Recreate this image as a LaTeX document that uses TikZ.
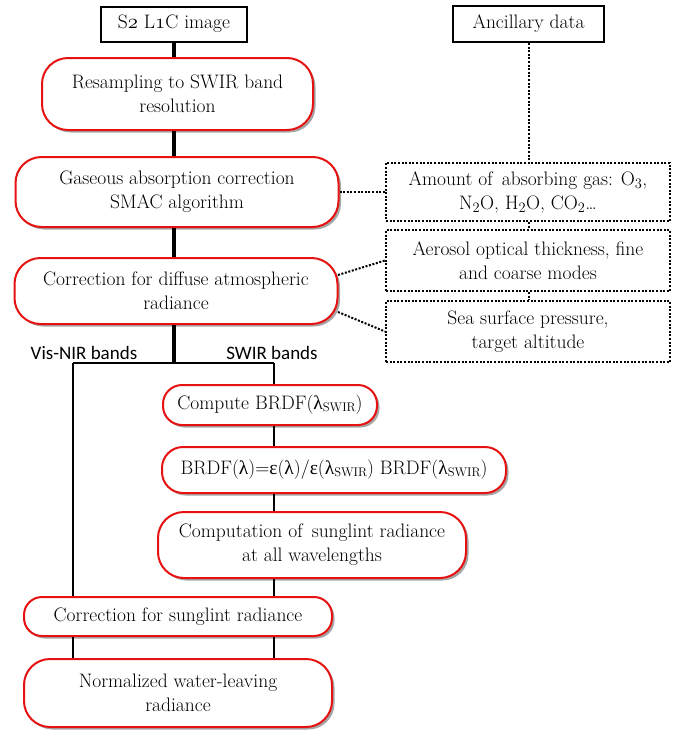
\documentclass[tikz,border=0pt]{standalone}
\usepackage{fontspec}
\newfontfamily\calib{Carlito}
\newfontfamily\grk{Liberation Serif}
\usetikzlibrary{shadows}
\definecolor{boxred}{RGB}{230,18,18}
\newcommand{\osn}[1]{{\usefont{OML}{lmm}{m}{it}#1}}
\newcommand{\lam}{{\grk λ}}
\newcommand{\eps}{{\grk ε}}
\newcommand{\sw}{\raisebox{-0.25ex}{\fontsize{12.5}{12.5}\selectfont SWIR}}
\begin{document}
\begin{tikzpicture}[x=1pt,y=-1pt,
  txt/.style={font=\fontsize{19.5}{24}\selectfont, align=center, inner sep=0pt, text=black},
  rbox/.style={txt, draw=boxred, line width=2pt, fill=white,
    drop shadow={shadow xshift=2.5pt, shadow yshift=-2.5pt, fill=black!50, opacity=0.7}},
  sbox/.style={txt, draw=black, line width=2pt, fill=white},
  dbox/.style={txt, draw=black, dash pattern=on 2pt off 1.6pt, line width=2pt, fill=white},
  trunk/.style={line width=3.5pt},
  branch/.style={line width=2pt},
  dotline/.style={dash pattern=on 2pt off 1.6pt, line width=2pt},
  lab/.style={font=\calib\fontsize{19}{21}\selectfont, inner sep=0pt}
]
\useasboundingbox (0,0) rectangle (686,731);

% left column
\node[sbox, minimum width=146pt, minimum height=35pt] (s2) at (174,24) {S\osn{2} L\osn{1}C image};
\node[rbox, minimum width=271pt, minimum height=72pt, rounded corners=26pt] (res) at (177.5,94) {Resampling to SWIR band\\resolution};
\node[rbox, minimum width=323pt, minimum height=70pt, rounded corners=26pt] (gas) at (177,192) {Gaseous absorption correction\\SMAC algorithm};
\node[rbox, minimum width=323pt, minimum height=66pt, rounded corners=26pt] (diff) at (176,291) {Correction for diffuse atmospheric\\radiance};
\node[rbox, minimum width=214pt, minimum height=40pt, rounded corners=19pt] (cbrdf) at (270,405) {Compute BRDF(\lam\sw)};
\node[rbox, minimum width=344pt, minimum height=46pt, rounded corners=21pt] (brdfl) at (334,470) {BRDF(\lam)=\eps(\lam)/\eps(\lam\sw) BRDF(\lam\sw)};
\node[rbox, minimum width=308pt, minimum height=66pt, rounded corners=26pt] (comp) at (312,545) {Computation of\, sunglint radiance\\at all wavelengths};
\node[rbox, minimum width=308pt, minimum height=39pt, rounded corners=18pt] (csun) at (178,616.5) {Correction for sunglint radiance};
\node[rbox, minimum width=308pt, minimum height=68pt, rounded corners=26pt] (norm) at (178,693) {Normalized water-leaving\\radiance};

% right column
\node[sbox, minimum width=151pt, minimum height=36pt] (anc) at (528.5,24) {Ancillary data};
\node[dbox, minimum width=284pt, minimum height=58pt] (amt) at (528,192) {Amount of\, absorbing gas: O$_{\osn{3}}$,\\N$_{\osn{2}}$O, H$_{\osn{2}}$O, CO$_{\osn{2}}$\ldots};
\node[dbox, minimum width=284pt, minimum height=61pt] (aer) at (528,260.5) {Aerosol optical thickness, fine\\and coarse modes};
\node[dbox, minimum width=284pt, minimum height=61pt] (sea) at (528,331.5) {Sea surface pressure,\\target altitude};

% labels
\node[lab] (vis) at (84,353) {Vis-NIR bands};
\node[lab] (swir) at (272,353) {SWIR bands};

% junction coordinates
\coordinate (j) at (174,363);
\coordinate (jl) at (73,363);
\coordinate (jr) at (274,363);
\coordinate (d1) at (338,275);
\coordinate (d2) at (338,312);

% trunk
\draw[trunk] (s2.south) -- (s2.south |- res.north);
\draw[trunk] (s2.south |- res.south) -- (s2.south |- gas.north);
\draw[trunk] (s2.south |- gas.south) -- (s2.south |- diff.north);
\draw[trunk] (j |- diff.south) -- (j);
\draw[branch] (jl) -- (jr);
\draw[branch] (jl) -- (jl |- csun.north);
\draw[branch] (jr) -- (jr |- cbrdf.north);
\draw[branch] (jr |- cbrdf.south) -- (jr |- brdfl.north);
\draw[branch] (jr |- brdfl.south) -- (jr |- comp.north);
\draw[branch] (jr |- comp.south) -- (jr |- csun.north);
\draw[branch] (jl |- csun.south) -- (jl |- norm.north);
\draw[branch] (jr |- csun.south) -- (jr |- norm.north);

% dotted
\draw[dotline] (anc.south) -- (anc.south |- amt.north);
\draw[dotline] (anc.south |- amt.south) -- (anc.south |- aer.north);
\draw[dotline] (anc.south |- aer.south) -- (anc.south |- sea.north);
\draw[dotline] (gas.east) -- (amt.west);
\draw[dotline] (d1) -- (aer.west);
\draw[dotline] (d2) -- (sea.west);
\end{tikzpicture}
\end{document}
